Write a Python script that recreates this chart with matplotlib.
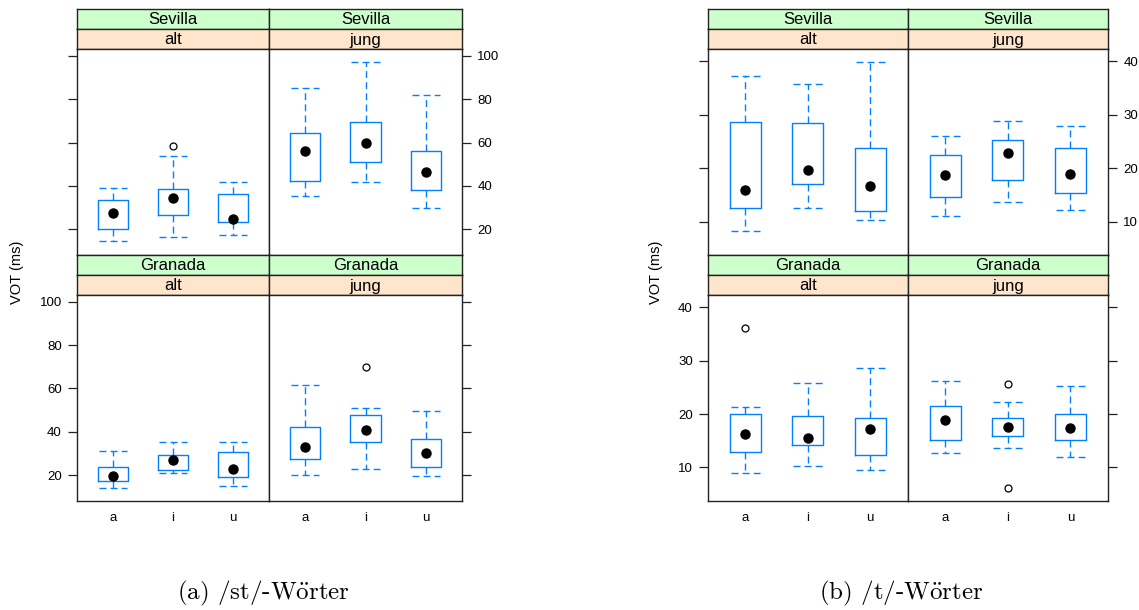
import matplotlib.pyplot as plt

plt.rcParams['font.family'] = ['Liberation Sans', 'DejaVu Sans']
plt.rcParams['axes.unicode_minus'] = False

vowels = ['a', 'i', 'u']
# panel order: Sevilla/alt, Sevilla/jung, Granada/alt, Granada/jung
places = ['Sevilla', 'Sevilla', 'Granada', 'Granada']
ages = ['alt', 'jung', 'alt', 'jung']

# (a) /st/-Wörter
st_whislo = [[14.7, 16.7, 17.3], [35.6, 41.6, 29.7], [14.0, 21.2, 15.2], [20.0, 22.8, 19.7]]
st_q1 = [[20.4, 26.4, 23.3], [42.3, 51.2, 38.2], [17.2, 22.2, 19.1], [27.4, 35.5, 23.7]]
st_med = [[27.7, 34.5, 24.8], [55.9, 60.0, 46.6], [19.4, 27.2, 22.6], [33.2, 40.9, 30.0]]
st_q3 = [[33.7, 38.6, 36.5], [64.4, 69.5, 55.9], [23.8, 29.5, 30.8], [42.2, 47.8, 36.8]]
st_whishi = [[39.1, 54.0, 41.8], [85.0, 97.1, 81.9], [31.2, 35.4, 35.1], [61.4, 50.8, 49.4]]
st_fliers = [[[], [58.3], []], [[], [], []], [[], [], []], [[], [69.7], []]]

# (b) /t/-Wörter
t_whislo = [[8.25, 12.5, 10.25], [11.1, 13.7, 12.1], [9.0, 10.2, 9.6], [12.7, 13.7, 12.0]]
t_q1 = [[12.5, 17.0, 12.0], [14.7, 17.7, 15.3], [12.8, 14.2, 12.4], [15.1, 15.85, 15.1]]
t_med = [[15.9, 19.7, 16.7], [18.7, 22.9, 18.9], [16.3, 15.5, 17.2], [18.8, 17.65, 17.3]]
t_q3 = [[28.6, 28.4, 23.7], [22.5, 25.2, 23.85], [20.0, 19.7, 19.3], [21.45, 19.3, 20.0]]
t_whishi = [[37.2, 35.8, 39.9], [26.0, 28.9, 27.9], [21.4, 25.9, 28.7], [26.1, 22.3, 25.3]]
t_fliers = [[[], [], []], [[], [], []], [[36.1], [], []], [[], [25.7, 6.2], []]]

W, H = 1139, 610
BLUE = '#0080ff'
FRAME = '#222222'

fig = plt.figure(figsize=(W / 100, H / 100), dpi=100)


def px_axes(x0, y0, x1, y1):
    return fig.add_axes([x0 / W, 1 - y1 / H, (x1 - x0) / W, (y1 - y0) / H])


def draw_group(left, mid, right, ylim, yticks, whislo, q1, med, q3, whishi, fliers, ylab_x, caption, cap_x):
    rows = [(9, 29, 49, 255), (255, 275, 295, 500.7)]
    cols = [(left, mid), (mid, right)]
    for k in range(4):
        r, c = divmod(k, 2)
        s0, s1, p0, p1 = rows[r]
        x0, x1 = cols[c]
        # strips
        for (ya, yb, col, txt) in [(s0, s1, '#ccffcc', places[k]), (s1, p0, '#ffe5cc', ages[k])]:
            sa = px_axes(x0, ya, x1, yb)
            sa.set_facecolor(col)
            sa.set_xticks([])
            sa.set_yticks([])
            for sp in sa.spines.values():
                sp.set_color(FRAME)
                sp.set_linewidth(1.0)
            sa.text(0.5, 0.45, txt, ha='center', va='center', fontsize=12, transform=sa.transAxes)
        ax = px_axes(x0, p0, x1, p1)
        stats = []
        for j in range(3):
            stats.append(dict(med=med[k][j], q1=q1[k][j], q3=q3[k][j],
                              whislo=whislo[k][j], whishi=whishi[k][j], fliers=fliers[k][j]))
        ax.bxp(stats, positions=[1, 2, 3], widths=0.5, capwidths=0.47,
               boxprops=dict(color=BLUE, linewidth=1.0),
               whiskerprops=dict(color=BLUE, linewidth=1.0, linestyle=(0, (5, 3))),
               capprops=dict(color=BLUE, linewidth=1.0, linestyle=(0, (5, 3))),
               medianprops=dict(visible=False),
               flierprops=dict(marker='o', markerfacecolor='none', markeredgecolor='black',
                               markersize=5, markeredgewidth=0.9))
        ax.plot([1, 2, 3], med[k], 'o', color='black', markersize=6.5, zorder=5)
        ax.set_xlim(0.4, 3.6)
        ax.set_ylim(*ylim)
        ax.set_yticks(yticks)
        for sp in ax.spines.values():
            sp.set_color(FRAME)
            sp.set_linewidth(1.0)
        ax.tick_params(axis='y', direction='out', length=6.5, width=0.9, color=FRAME,
                       labelsize=9.5, pad=4.5,
                       left=(c == 0), right=(c == 1),
                       labelleft=(c == 0 and r == 1), labelright=(c == 1 and r == 0))
        ax.set_xticks([1, 2, 3])
        if r == 1:
            ax.set_xticklabels(vowels)
            ax.tick_params(axis='x', length=0, labelsize=9.5, pad=8)
        else:
            ax.tick_params(axis='x', length=0, labelbottom=False)
    fig.text(ylab_x / W, 1 - 272 / H, 'VOT (ms)', rotation=90, ha='center', va='center', fontsize=10.5)
    fig.text(cap_x / W, 1 - 593 / H, caption, ha='center', va='center', fontsize=18,
             family='cmr10', math_fontfamily='cm')


draw_group(77, 269, 462, (8.2, 103.1), [20, 40, 60, 80, 100],
           st_whislo, st_q1, st_med, st_q3, st_whishi, st_fliers,
           17, r'(a) /st/-W$\ddot{\mathrm{o}}$rter', 263)
draw_group(708, 907.7, 1108, (3.76, 42.3), [10, 20, 30, 40],
           t_whislo, t_q1, t_med, t_q3, t_whishi, t_fliers,
           656, r'(b) /t/-W$\ddot{\mathrm{o}}$rter', 901)

fig.savefig('out.png', dpi=100)
